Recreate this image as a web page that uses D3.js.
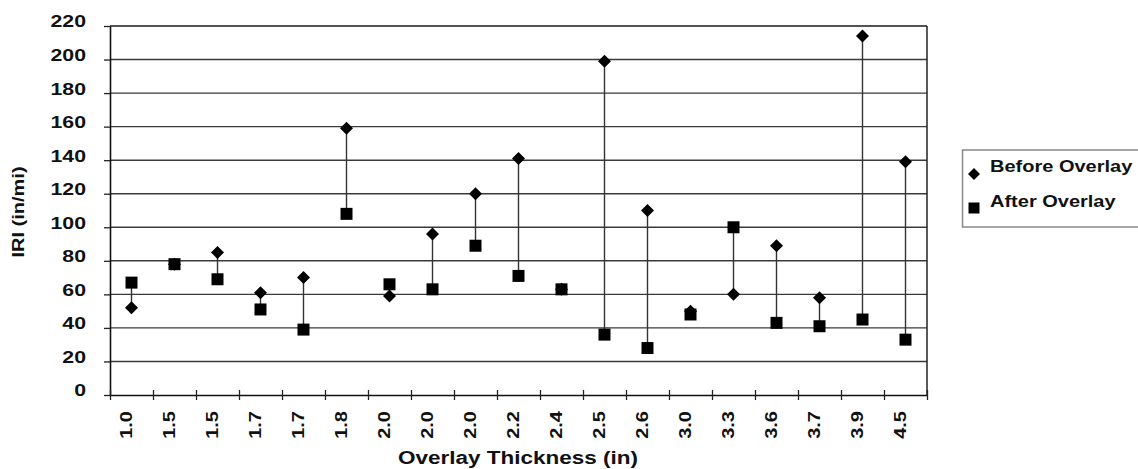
<!DOCTYPE html>
<html>
<head>
<meta charset="utf-8">
<script src="https://cdn.jsdelivr.net/npm/d3@7/dist/d3.min.js"></script>
<style>
  html, body { margin: 0; padding: 0; background: #fff; }
  svg { display: block; }
  text { font-family: "Liberation Sans", Arial, sans-serif; font-weight: bold; fill: #111; }
</style>
</head>
<body>
<svg id="chart" width="1138" height="469"></svg>
<script>
// Overlay thickness per section (x categories, in inches)
const thickness = ["1.0","1.5","1.5","1.7","1.7","1.8","2.0","2.0","2.0","2.2","2.4","2.5","2.6","3.0","3.3","3.6","3.7","3.9","4.5"];
// Roughness before and after the overlay, IRI (in/mi)
const beforeOverlay = [52, 78, 85, 61, 70, 159, 59, 96, 120, 141, 63, 199, 110, 50, 60, 89, 58, 214, 139];
const afterOverlay  = [67, 78, 69, 51, 39, 108, 66, 63, 89, 71, 63, 36, 28, 48, 100, 43, 41, 45, 33];
// Value axis ticks
const yTicks = [0, 20, 40, 60, 80, 100, 120, 140, 160, 180, 200, 220];
const seriesNames = ["Before Overlay", "After Overlay"];

const svg = d3.select("#chart");
const plot = { left: 110, right: 927, top: 26, bottom: 395 };
const SX = 1.25; // wide lettering

const idx = d3.range(thickness.length);
const x = d3.scaleBand().domain(idx).range([plot.left, plot.right]).paddingInner(0).paddingOuter(0);
const xEdge = d3.scaleLinear().domain([0, thickness.length]).range([plot.left, plot.right]);
const y = d3.scaleLinear().domain([0, 220]).range([plot.bottom, plot.top]);
const cx = i => x(i) + x.bandwidth() / 2;

// horizontal gridlines (the top one doubles as the frame)
svg.append("g")
  .selectAll("line")
  .data(yTicks.filter(v => v > 0))
  .join("line")
  .attr("x1", plot.left).attr("x2", plot.right)
  .attr("y1", d => y(d)).attr("y2", d => y(d))
  .attr("stroke", d => d === 220 ? "#1a1a1a" : "#3a3a3a")
  .attr("stroke-width", d => d === 220 ? 1.6 : 1.4);

// right border
svg.append("line")
  .attr("x1", plot.right).attr("x2", plot.right)
  .attr("y1", plot.top).attr("y2", plot.bottom)
  .attr("stroke", "#222").attr("stroke-width", 1.5);

// y axis
const yAxis = svg.append("g")
  .attr("transform", `translate(${plot.left},0)`)
  .call(d3.axisLeft(y).tickValues(yTicks).tickSize(6).tickSizeOuter(0));
yAxis.select(".domain").attr("stroke", "#111").attr("stroke-width", 1.6);
yAxis.selectAll(".tick line").attr("stroke", "#222").attr("stroke-width", 1.3);
yAxis.selectAll(".tick text")
  .attr("x", null).attr("dy", "0.35em")
  .attr("transform", `translate(-24,-5) scale(${SX},1)`)
  .attr("font-size", 17)
  .attr("font-family", null);

// x axis: tick marks at category edges
const xAxis = svg.append("g")
  .attr("transform", `translate(0,${plot.bottom})`)
  .call(d3.axisBottom(xEdge).tickValues(d3.range(thickness.length + 1)).tickFormat("").tickSizeOuter(0));
xAxis.select(".domain").attr("stroke", "#111").attr("stroke-width", 1.6);
xAxis.selectAll(".tick line").attr("y1", -5).attr("y2", 5).attr("stroke", "#222").attr("stroke-width", 1.3);

// category labels, rotated
svg.append("g")
  .selectAll("text")
  .data(idx)
  .join("text")
  .attr("transform", i => `translate(${cx(i)},411) rotate(-90) scale(${SX},1)`)
  .attr("text-anchor", "end")
  .attr("font-size", 16)
  .text(i => thickness[i]);

// axis titles
svg.append("text")
  .attr("transform", `translate(518,464) scale(${SX},1)`)
  .attr("text-anchor", "middle")
  .attr("font-size", 18)
  .text("Overlay Thickness (in)");

svg.append("text")
  .attr("transform", `translate(24,212) rotate(-90) scale(${SX},1)`)
  .attr("text-anchor", "middle")
  .attr("font-size", 16)
  .text("IRI (in/mi)");

// drop lines between before and after
svg.append("g")
  .selectAll("line")
  .data(idx)
  .join("line")
  .attr("x1", cx).attr("x2", cx)
  .attr("y1", i => y(beforeOverlay[i]))
  .attr("y2", i => y(afterOverlay[i]))
  .attr("stroke", "#333").attr("stroke-width", 1.4);

const diamond = r => `M0,${-r}L${r},0L0,${r}L${-r},0Z`;
const square = s => `M${-s/2},${-s/2}h${s}v${s}h${-s}Z`;

svg.append("g")
  .selectAll("path")
  .data(idx)
  .join("path")
  .attr("d", diamond(6.5))
  .attr("transform", i => `translate(${cx(i)},${y(beforeOverlay[i])})`)
  .attr("fill", "#000");

svg.append("g")
  .selectAll("path")
  .data(idx)
  .join("path")
  .attr("d", square(12))
  .attr("transform", i => `translate(${cx(i)},${y(afterOverlay[i])})`)
  .attr("fill", "#000");

// legend
const legend = svg.append("g");
legend.append("rect")
  .attr("x", 962.5).attr("y", 150).attr("width", 200).attr("height", 77)
  .attr("fill", "#fff").attr("stroke", "#888").attr("stroke-width", 1.5);
legend.append("path").attr("d", diamond(6)).attr("transform", "translate(974,174)").attr("fill", "#000");
legend.append("path").attr("d", square(11)).attr("transform", "translate(974,208)").attr("fill", "#000");
legend.selectAll("text.lab")
  .data(seriesNames)
  .join("text")
  .attr("class", "lab")
  .attr("transform", (d, i) => `translate(990,${i === 0 ? 172 : 207}) scale(${SX},1)`)
  .attr("font-size", 16)
  .text(d => d);
</script>
</body>
</html>
